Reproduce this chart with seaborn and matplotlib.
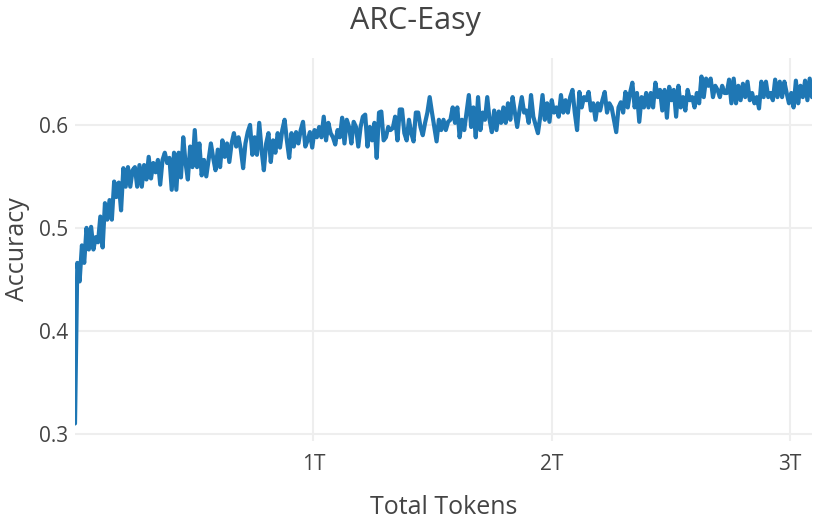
import numpy as np
import pandas as pd
import matplotlib
matplotlib.use("Agg")
import matplotlib.pyplot as plt
import seaborn as sns

# ARC-Easy accuracy over training
acc_start = [0.310, 0.466, 0.448, 0.483, 0.466, 0.500, 0.479, 0.501, 0.479, 0.491,
             0.486, 0.511, 0.481, 0.524, 0.508, 0.527, 0.508, 0.545, 0.530, 0.544,
             0.517, 0.558, 0.540, 0.559, 0.540, 0.556, 0.559, 0.540, 0.561, 0.540,
             0.561, 0.547, 0.569, 0.548, 0.563, 0.554, 0.566, 0.542, 0.566, 0.573,
             0.563]
acc_early = [0.568, 0.537, 0.573, 0.537, 0.573, 0.549, 0.588, 0.563, 0.547, 0.579,
             0.559, 0.595, 0.559, 0.582, 0.551, 0.566, 0.550, 0.566, 0.582, 0.568,
             0.556, 0.576, 0.559, 0.585, 0.569, 0.582, 0.564, 0.582, 0.592, 0.579,
             0.588, 0.576, 0.558, 0.582, 0.593, 0.600, 0.571, 0.588, 0.571, 0.602,
             0.576, 0.556, 0.582]
acc_1t = [0.592, 0.564, 0.585, 0.573, 0.592, 0.578, 0.595, 0.605, 0.585, 0.568,
          0.592, 0.579, 0.593, 0.582, 0.595, 0.603, 0.579, 0.585, 0.593, 0.578,
          0.595, 0.588, 0.598, 0.588, 0.608, 0.585, 0.602, 0.592, 0.588, 0.581,
          0.595, 0.588, 0.607, 0.582, 0.605, 0.598, 0.582, 0.603, 0.598]
acc_mid = [0.579, 0.598, 0.608, 0.610, 0.579, 0.598, 0.585, 0.602, 0.568, 0.612,
           0.613, 0.585, 0.588, 0.598, 0.595, 0.597, 0.608, 0.585, 0.615, 0.615,
           0.592, 0.585, 0.605, 0.592, 0.584, 0.612, 0.612, 0.598, 0.590, 0.602,
           0.612, 0.627, 0.612, 0.598, 0.584, 0.605, 0.595, 0.605, 0.595, 0.603]
acc_pre2t = [0.605, 0.617, 0.602, 0.617, 0.588, 0.605, 0.595, 0.612, 0.629, 0.598,
             0.617, 0.588, 0.627, 0.595, 0.612, 0.605, 0.627, 0.605, 0.593, 0.614,
             0.595, 0.613, 0.602, 0.617, 0.602, 0.621, 0.605, 0.627, 0.612, 0.598,
             0.614, 0.627, 0.612, 0.614, 0.602, 0.629, 0.608, 0.600, 0.592]
acc_2t = [0.608, 0.629, 0.605, 0.621, 0.603, 0.624, 0.612, 0.617, 0.608, 0.629,
          0.612, 0.624, 0.612, 0.627, 0.634, 0.612, 0.595, 0.632, 0.617, 0.627,
          0.624, 0.632, 0.614, 0.621, 0.605, 0.621, 0.614, 0.624, 0.632, 0.612,
          0.621, 0.617, 0.605, 0.593, 0.617, 0.622, 0.612, 0.632, 0.617]
acc_late = [0.631, 0.641, 0.617, 0.631, 0.603, 0.627, 0.617, 0.631, 0.617, 0.631,
            0.617, 0.641, 0.627, 0.634, 0.614, 0.634, 0.607, 0.637, 0.624, 0.634,
            0.608, 0.638, 0.617, 0.627, 0.614, 0.634, 0.624, 0.627, 0.617, 0.631,
            0.621, 0.647, 0.627, 0.645, 0.638, 0.645, 0.627, 0.638, 0.634]
acc_end = [0.627, 0.638, 0.631, 0.631, 0.644, 0.621, 0.645, 0.621, 0.638, 0.624,
           0.640, 0.627, 0.642, 0.624, 0.631, 0.621, 0.627, 0.616, 0.642, 0.627,
           0.642, 0.627, 0.631, 0.624, 0.644, 0.627, 0.642, 0.627, 0.642, 0.631,
           0.621, 0.631, 0.617, 0.643, 0.621, 0.638, 0.627, 0.643, 0.624, 0.645,
           0.627]

accuracy = acc_start + acc_early + acc_1t + acc_mid + acc_pre2t + acc_2t + acc_late + acc_end
max_tokens = 3.092e12  # last checkpoint
tokens = np.linspace(0, max_tokens, len(accuracy))

x_ticks = [1e12, 2e12, 3e12]
x_ticklabels = ["1T", "2T", "3T"]
y_ticks = [0.3, 0.4, 0.5, 0.6]

df = pd.DataFrame({"tokens": tokens, "accuracy": accuracy})

sns.set_theme(style="whitegrid")
plt.rcParams["font.family"] = ["Open Sans", "DejaVu Sans"]
text_color = "#444444"

fig = plt.figure(figsize=(8.3, 5.2), dpi=100)
ax = fig.add_axes([75 / 830, 1 - 441 / 520, 737 / 830, 383 / 520])

sns.lineplot(data=df, x="tokens", y="accuracy", ax=ax, color="#1f77b4", linewidth=3)

ax.set_xlim(0, max_tokens)
ax.set_ylim(0.293, 0.665)
ax.set_xticks(x_ticks)
ax.set_xticklabels(x_ticklabels)
ax.set_yticks(y_ticks)
ax.set_yticklabels(["0.3", "0.4", "0.5", "0.6"])

for s in ax.spines.values():
    s.set_visible(False)
ax.grid(True, color="#eeeeee", linewidth=1.5)
ax.set_facecolor("white")
ax.tick_params(axis="both", length=0, labelsize=15, colors=text_color)
ax.tick_params(axis="x", pad=9)
ax.tick_params(axis="y", pad=5)

ax.set_xlabel("Total Tokens", fontsize=18, color=text_color)
ax.set_ylabel("Accuracy", fontsize=18, color=text_color)
ax.xaxis.set_label_coords(0.5, -0.14)
ax.yaxis.set_label_coords(-0.061, 0.5)

fig.text(0.5, 1 - 21 / 520, "ARC-Easy", ha="center", va="center",
         fontsize=22, color=text_color)

fig.savefig("out.png", dpi=100, facecolor="white")
